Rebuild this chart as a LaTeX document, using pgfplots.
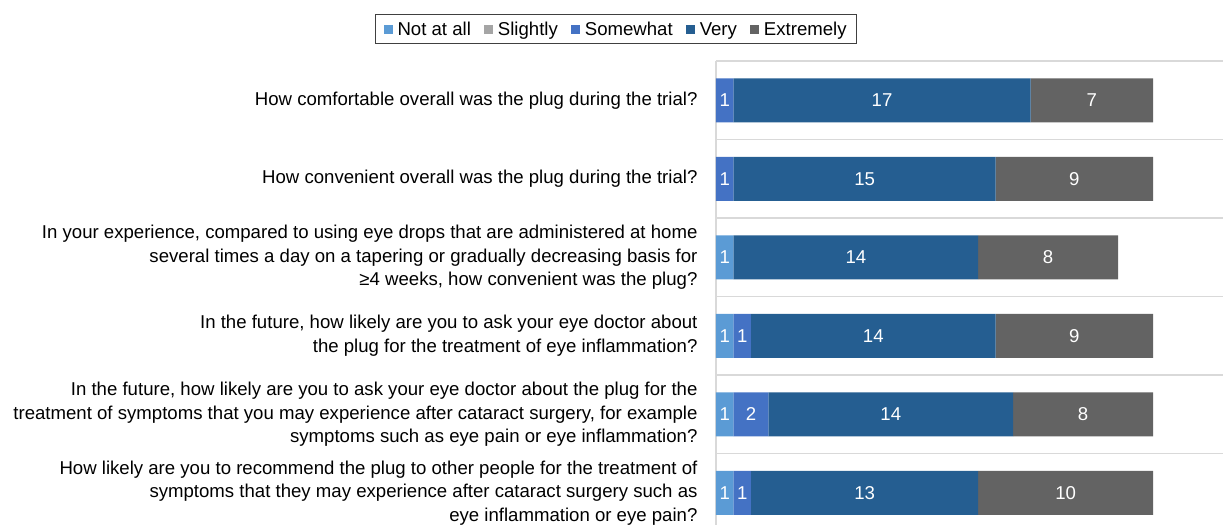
\documentclass[border=0pt]{standalone}
\usepackage{pgfplots}
\pgfplotsset{compat=1.18}
\usepackage{fontspec}
\setmainfont{Liberation Sans}
\definecolor{cNot}{HTML}{5B9BD5}
\definecolor{cSli}{HTML}{A5A5A5}
\definecolor{cSom}{HTML}{4472C4}
\definecolor{cVer}{HTML}{255E91}
\definecolor{cExt}{HTML}{636363}
\definecolor{cGrid}{HTML}{D9D9D9}
\newcommand{\lp}{\vphantom{lg}}
\begin{document}
\begin{tikzpicture}
\useasboundingbox (-716pt,0pt) rectangle (507pt,525pt);
\begin{axis}[
  at={(0pt,0pt)}, anchor=south west,
  scale only axis, width=507pt, height=464pt,
  xbar stacked, bar width=44pt,
  xmin=0, xmax=29, ymin=0.5, ymax=6.41, y dir=reverse,
  ytick={1,...,6},
  yticklabels={
    {How comfortable overall was the plug during the trial?},
    {How convenient overall was the plug during the trial?},
    {In your experience, compared to using eye drops that are administered at home\\several times a day on a tapering or gradually decreasing basis for\\≥4 weeks, how convenient was the plug?},
    {In the future, how likely are you to ask your eye doctor about\\the plug for the treatment of eye inflammation?},
    {In the future, how likely are you to ask your eye doctor about the plug for the\\treatment of symptoms that you may experience after cataract surgery, for example\\symptoms such as eye pain or eye inflammation?},
    {How likely are you to recommend the plug to other people for the treatment of\\symptoms that they may experience after cataract surgery such as\\eye inflammation or eye pain?}
  },
  yticklabel style={align=right, font=\fontsize{18.6}{23.5}\selectfont, xshift=-15pt},
  minor ytick={0.5,1.5,...,5.5}, yminorgrids,
  xtick={0}, xticklabels={}, xmajorgrids,
  grid style={color=cGrid, line width=1.2pt},
  minor grid style={color=cGrid, line width=1.2pt},
  major grid style={color=cGrid, line width=1.2pt},
  axis line style={draw=none},
  major tick length=0pt, minor tick length=0pt,
  visualization depends on={rawx\as\rawx},
  nodes near coords={\pgfmathtruncatemacro{\segv}{\rawx}\ifnum\segv>0 \segv\fi},
  every node near coord/.append style={text=white, font=\fontsize{18.6}{22}\selectfont},
  legend columns=-1,
  legend style={at={(axis description cs:-0.197,1.101)}, anchor=north,
    draw=black!75, line width=0.8pt, font=\fontsize{18.6}{22}\selectfont,
    inner xsep=8pt, inner ysep=5pt,
    /tikz/every odd column/.append style={column sep=3pt},
    /tikz/every even column/.append style={column sep=11pt}},
  legend image code/.code={\fill[#1] (0pt,-4.5pt) rectangle (9pt,4.5pt);},
]
\addplot[fill=cNot, draw=none] coordinates {(0,1) (0,2) (1,3) (1,4) (1,5) (1,6)};
\addplot[fill=cSli, draw=none] coordinates {(0,1) (0,2) (0,3) (0,4) (0,5) (0,6)};
\addplot[fill=cSom, draw=none] coordinates {(1,1) (1,2) (0,3) (1,4) (2,5) (1,6)};
\addplot[fill=cVer, draw=none] coordinates {(17,1) (15,2) (14,3) (14,4) (14,5) (13,6)};
\addplot[fill=cExt, draw=none] coordinates {(7,1) (9,2) (8,3) (9,4) (8,5) (10,6)};
\legend{Not at all\lp, Slightly\lp, Somewhat\lp, Very\lp, Extremely\lp}
\end{axis}
\end{tikzpicture}
\end{document}
